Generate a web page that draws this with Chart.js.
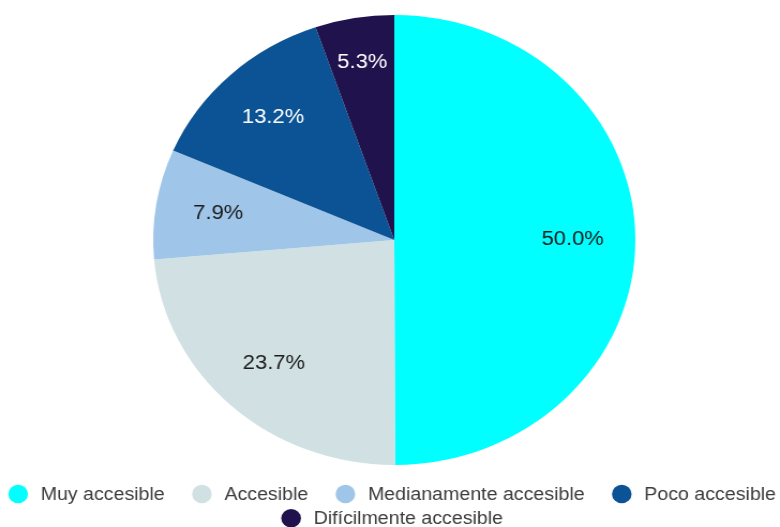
<!DOCTYPE html>
<html>
<head>
<meta charset="utf-8">
<script src="https://cdn.jsdelivr.net/npm/chart.js@4.4.1/dist/chart.umd.min.js"></script>
<style>
    html, body { margin: 0; padding: 0; background: #fff; overflow: hidden; }
    /* the reference pie is slightly wider than tall, so the canvas is stretched a bit */
    .wrap { width: 728px; height: 527px; transform: scaleX(1.0714); transform-origin: 0 0; }
</style>
</head>
<body>
<div class="wrap"><canvas id="pie" width="728" height="527"></canvas></div>
<script>
const labels = ['Muy accesible', 'Accesible', 'Medianamente accesible', 'Poco accesible', 'Difícilmente accesible'];
const values = [50.0, 23.7, 7.9, 13.2, 5.3];
const colors = ['#00ffff', '#d0e0e3', '#9fc5e8', '#0b5394', '#20124d'];
const labelColors = ['#1c1c1c', '#1c1c1c', '#1c1c1c', '#ffffff', '#ffffff'];

const FONT = '"Liberation Sans", Arial, sans-serif';

// percentages written inside each slice
const sliceLabels = {
    id: 'sliceLabels',
    afterDatasetsDraw(chart) {
        const ctx = chart.ctx;
        ctx.save();
        ctx.font = '20.5px ' + FONT;
        ctx.textAlign = 'center';
        ctx.textBaseline = 'middle';
        chart.getDatasetMeta(0).data.forEach(function (arc, i) {
            const p = arc.getProps(['x', 'y', 'startAngle', 'endAngle', 'outerRadius'], true);
            const mid = (p.startAngle + p.endAngle) / 2;
            // narrow slices get their text pushed further out so it fits
            const r = p.outerRadius * (p.endAngle - p.startAngle < 0.4 ? 0.80 : 0.74);
            ctx.fillStyle = labelColors[i];
            ctx.fillText(values[i].toFixed(1) + '%', p.x + Math.cos(mid) * r, p.y + Math.sin(mid) * r);
        });
        ctx.restore();
    }
};

// legend with round markers, two centred rows at the bottom
const bottomLegend = {
    id: 'bottomLegend',
    afterDraw(chart) {
        const ctx = chart.ctx;
        const radius = 9.2, gap = 11.8, itemGap = 25.5, centerX = 366;
        const rowY = [494, 518.3];
        ctx.save();
        ctx.font = '18.3px ' + FONT;
        ctx.textBaseline = 'middle';
        const items = chart.data.labels.map(function (text, i) {
            return { text: text, color: colors[i], w: radius * 2 + gap + ctx.measureText(text).width };
        });
        const rows = [[]];
        let rowWidth = 0;
        items.forEach(function (it) {
            const row = rows[rows.length - 1];
            const need = row.length ? rowWidth + itemGap + it.w : it.w;
            if (row.length && need > chart.width - 4) {
                rows.push([it]);
                rowWidth = it.w;
            } else {
                row.push(it);
                rowWidth = need;
            }
        });
        rows.forEach(function (row, r) {
            const total = row.reduce((s, it) => s + it.w, 0) + itemGap * (row.length - 1);
            let x = centerX - total / 2;
            const y = rowY[r];
            row.forEach(function (it) {
                ctx.fillStyle = it.color;
                ctx.beginPath();
                ctx.arc(x + radius, y, radius, 0, Math.PI * 2);
                ctx.fill();
                ctx.fillStyle = '#3c3c3c';
                ctx.fillText(it.text, x + radius * 2 + gap, y + 1);
                x += it.w + itemGap;
            });
        });
        ctx.restore();
    }
};

new Chart(document.getElementById('pie'), {
    type: 'pie',
    data: {
        labels: labels,
        datasets: [{
            data: values,
            backgroundColor: colors,
            borderWidth: 0
        }]
    },
    options: {
        responsive: false,
        animation: false,
        devicePixelRatio: 1,
        layout: { padding: { top: 15, bottom: 62, left: 8, right: 0 } },
        plugins: {
            legend: { display: false },
            tooltip: { enabled: false }
        }
    },
    plugins: [sliceLabels, bottomLegend]
});
</script>
</body>
</html>
